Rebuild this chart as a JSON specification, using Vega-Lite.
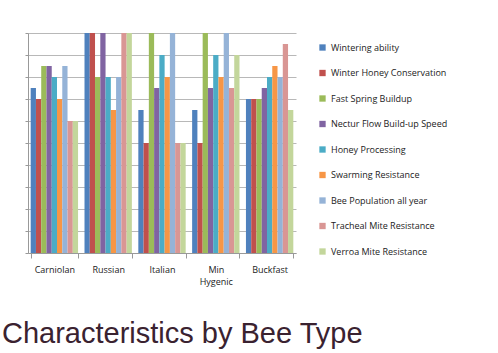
{
  "$schema": "https://vega.github.io/schema/vega-lite/v6.json",
  "autosize": {"type": "none"},
  "width": 268,
  "height": 220,
  "padding": {"left": 28, "top": 33, "right": 202, "bottom": 100},
  "background": "white",
  "title": {
    "text": "Characteristics by Bee Type",
    "orient": "bottom",
    "anchor": "start",
    "frame": "group",
    "offset": 34,
    "dx": -26,
    "font": "Liberation Sans",
    "fontSize": 29,
    "fontWeight": "normal",
    "color": "#3a2230"
  },
  "data": {
    "values": [
      {"type": "Carniolan", "trait": "Wintering ability", "v": 7.5},
      {"type": "Carniolan", "trait": "Winter Honey Conservation", "v": 7},
      {"type": "Carniolan", "trait": "Fast Spring Buildup", "v": 8.5},
      {"type": "Carniolan", "trait": "Nectur Flow Build-up Speed", "v": 8.5},
      {"type": "Carniolan", "trait": "Honey Processing", "v": 8},
      {"type": "Carniolan", "trait": "Swarming Resistance", "v": 7},
      {"type": "Carniolan", "trait": "Bee Population all year", "v": 8.5},
      {"type": "Carniolan", "trait": "Tracheal Mite Resistance", "v": 6},
      {"type": "Carniolan", "trait": "Verroa Mite Resistance", "v": 6},
      {"type": "Russian", "trait": "Wintering ability", "v": 10},
      {"type": "Russian", "trait": "Winter Honey Conservation", "v": 10},
      {"type": "Russian", "trait": "Fast Spring Buildup", "v": 8},
      {"type": "Russian", "trait": "Nectur Flow Build-up Speed", "v": 10},
      {"type": "Russian", "trait": "Honey Processing", "v": 8},
      {"type": "Russian", "trait": "Swarming Resistance", "v": 6.5},
      {"type": "Russian", "trait": "Bee Population all year", "v": 8},
      {"type": "Russian", "trait": "Tracheal Mite Resistance", "v": 10},
      {"type": "Russian", "trait": "Verroa Mite Resistance", "v": 10},
      {"type": "Italian", "trait": "Wintering ability", "v": 6.5},
      {"type": "Italian", "trait": "Winter Honey Conservation", "v": 5},
      {"type": "Italian", "trait": "Fast Spring Buildup", "v": 10},
      {"type": "Italian", "trait": "Nectur Flow Build-up Speed", "v": 7.5},
      {"type": "Italian", "trait": "Honey Processing", "v": 9},
      {"type": "Italian", "trait": "Swarming Resistance", "v": 8},
      {"type": "Italian", "trait": "Bee Population all year", "v": 10},
      {"type": "Italian", "trait": "Tracheal Mite Resistance", "v": 5},
      {"type": "Italian", "trait": "Verroa Mite Resistance", "v": 5},
      {"type": "Min Hygenic", "trait": "Wintering ability", "v": 6.5},
      {"type": "Min Hygenic", "trait": "Winter Honey Conservation", "v": 5},
      {"type": "Min Hygenic", "trait": "Fast Spring Buildup", "v": 10},
      {"type": "Min Hygenic", "trait": "Nectur Flow Build-up Speed", "v": 7.5},
      {"type": "Min Hygenic", "trait": "Honey Processing", "v": 9},
      {"type": "Min Hygenic", "trait": "Swarming Resistance", "v": 8},
      {"type": "Min Hygenic", "trait": "Bee Population all year", "v": 10},
      {"type": "Min Hygenic", "trait": "Tracheal Mite Resistance", "v": 7.5},
      {"type": "Min Hygenic", "trait": "Verroa Mite Resistance", "v": 9},
      {"type": "Buckfast", "trait": "Wintering ability", "v": 7},
      {"type": "Buckfast", "trait": "Winter Honey Conservation", "v": 7},
      {"type": "Buckfast", "trait": "Fast Spring Buildup", "v": 7},
      {"type": "Buckfast", "trait": "Nectur Flow Build-up Speed", "v": 7.5},
      {"type": "Buckfast", "trait": "Honey Processing", "v": 8},
      {"type": "Buckfast", "trait": "Swarming Resistance", "v": 8.5},
      {"type": "Buckfast", "trait": "Bee Population all year", "v": 8},
      {"type": "Buckfast", "trait": "Tracheal Mite Resistance", "v": 9.5},
      {"type": "Buckfast", "trait": "Verroa Mite Resistance", "v": 6.5}
    ]
  },
  "mark": {"type": "bar", "stroke": null},
  "encoding": {
    "x": {
      "field": "type",
      "type": "nominal",
      "sort": null,
      "scale": {"paddingInner": 0.12, "paddingOuter": 0.05},
      "axis": {
        "title": null,
        "labelAngle": 0,
        "labelFont": "Open Sans",
        "labelFontSize": 9,
        "labelLineHeight": 12,
        "labelColor": "#222222",
        "labelPadding": 7,
        "tickBand": "extent",
        "tickSize": 5,
        "tickColor": "#999999",
        "domainColor": "#999999",
        "labelExpr": "datum.label == 'Min Hygenic' ? ['Min', 'Hygenic'] : datum.label"
      }
    },
    "xOffset": {"field": "trait", "type": "nominal", "sort": null},
    "y": {
      "field": "v",
      "type": "quantitative",
      "scale": {"domain": [0, 10], "nice": false},
      "axis": {
        "title": null,
        "labels": false,
        "ticks": true,
        "tickSize": 3,
        "tickCount": 10,
        "grid": true,
        "gridColor": "#b8b8b8",
        "tickColor": "#999999",
        "domainColor": "#999999"
      }
    },
    "color": {
      "field": "trait",
      "type": "nominal",
      "sort": null,
      "scale": {
        "domain": ["Wintering ability", "Winter Honey Conservation", "Fast Spring Buildup", "Nectur Flow Build-up Speed", "Honey Processing", "Swarming Resistance", "Bee Population all year", "Tracheal Mite Resistance", "Verroa Mite Resistance"],
        "range": ["#4F81BD", "#C0504D", "#9BBB59", "#8064A2", "#4BACC6", "#F79646", "#95B3D7", "#D99694", "#C3D69B"]
      },
      "legend": {
        "title": null,
        "orient": "none",
        "legendX": 290,
        "legendY": 10,
        "symbolType": "square",
        "symbolSize": 40,
        "symbolStrokeWidth": 0,
        "labelFont": "Open Sans",
        "labelFontSize": 9,
        "labelColor": "#222222",
        "rowPadding": 15.5,
        "labelOffset": 4
      }
    }
  },
  "config": {"view": {"stroke": null}}
}
